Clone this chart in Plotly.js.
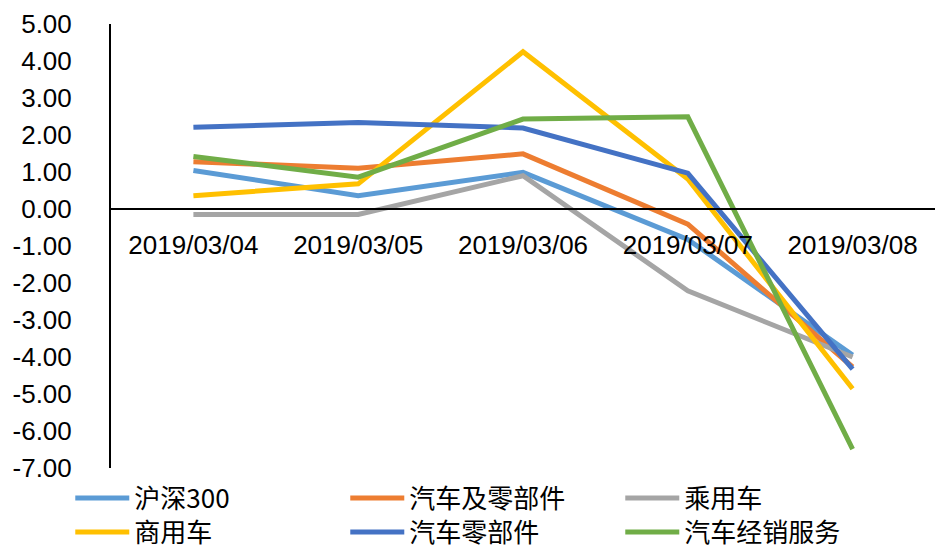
<!DOCTYPE html>
<html><head><meta charset="utf-8">
<script src="https://cdn.plot.ly/plotly-3.0.1.min.js"></script>
<style>html,body{margin:0;padding:0;background:#fff}#chart{width:937px;height:549px}</style>
</head><body><div id="chart"></div>
<script>
const categories = ['2019/03/04','2019/03/05','2019/03/06','2019/03/07','2019/03/08'];
const seriesNames = ['沪深300','汽车及零部件','乘用车','商用车','汽车零部件','汽车经销服务'];
const hs300      = [1.04, 0.36, 0.99, -0.82, -3.95];
const autoParts  = [1.28, 1.10, 1.49, -0.41, -4.27];
const passenger  = [-0.15, -0.15, 0.90, -2.21, -4.00];
const commercial = [0.36, 0.68, 4.25, 0.81, -4.86];
const components = [2.21, 2.34, 2.19, 0.97, -4.33];
const dealers    = [1.42, 0.86, 2.43, 2.49, -6.49];
const yTickValues = [5,4,3,2,1,0,-1,-2,-3,-4,-5,-6,-7];
const yTickLabels = ['5.00','4.00','3.00','2.00','1.00','0.00','-1.00','-2.00','-3.00','-4.00','-5.00','-6.00','-7.00'];

const colors = ['#5B9BD5','#ED7D31','#A5A5A5','#FFC000','#4472C4','#70AD47'];
const allSeries = [hs300, autoParts, passenger, commercial, components, dealers];
const traces = allSeries.map((vals, i) => ({
  type: 'scatter', mode: 'lines', x: categories, y: vals, name: seriesNames[i],
  line: {color: colors[i], width: 5},
  legend: i < 3 ? 'legend' : 'legend2'
}));

const legendCommon = {
  orientation: 'h', xanchor: 'left', yanchor: 'middle', yref: 'container', xref: 'container',
  font: {family: 'Noto Sans CJK SC, Liberation Sans, sans-serif', size: 26, color: '#000'},
  entrywidth: 206, entrywidthmode: 'pixels', itemwidth: 54, bgcolor: 'rgba(0,0,0,0)', borderwidth: 0
};

const layout = {
  width: 937, height: 549,
  margin: {l: 111, r: 2, t: 24, b: 81},
  paper_bgcolor: '#fff', plot_bgcolor: '#fff',
  showlegend: true,
  legend: Object.assign({}, legendCommon, {x: 0.075, y: 1 - 498/549}),
  legend2: Object.assign({}, legendCommon, {x: 0.075, y: 1 - 532/549}),
  xaxis: {
    type: 'category', range: [-0.5, 4.5], anchor: 'free', position: 7/12,
    showline: true, linecolor: '#000', linewidth: 2, ticks: '', showgrid: false, zeroline: false,
    tickfont: {family: 'Liberation Sans, Arial, sans-serif', size: 26, color: '#000'},
    ticklabelstandoff: 13, fixedrange: true
  },
  yaxis: {
    range: [-7, 5], tickmode: 'array', tickvals: yTickValues, ticktext: yTickLabels,
    showline: true, linecolor: '#000', linewidth: 2, ticks: '', showgrid: false, zeroline: false,
    tickfont: {family: 'Liberation Sans, Arial, sans-serif', size: 26, color: '#000'},
    ticklabelstandoff: 32, fixedrange: true
  }
};
Plotly.newPlot('chart', traces, layout, {displayModeBar: false, staticPlot: true});
</script></body></html>
